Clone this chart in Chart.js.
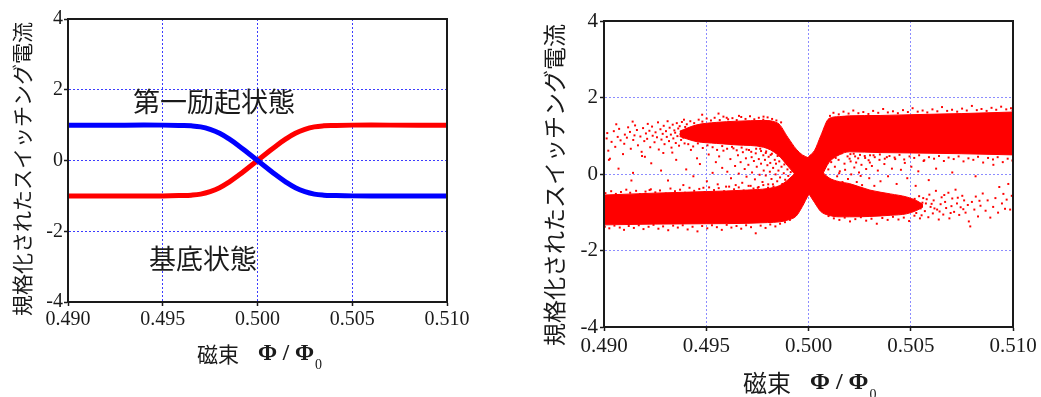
<!DOCTYPE html>
<html>
<head>
<meta charset="utf-8">
<script src="https://cdn.jsdelivr.net/npm/chart.js@4.4.0/dist/chart.umd.min.js"></script>
<style>
  html, body { margin: 0; padding: 0; background: #fff; }
  #wrap { position: relative; width: 1041px; height: 397px; overflow: hidden; }
  .box { position: absolute; top: 0; height: 397px; }
  #left { left: 0; width: 520px; }
  #right { left: 520px; width: 521px; }
</style>
</head>
<body>
<div id="wrap">
  <div class="box" id="left"><canvas id="c1" width="520" height="397"></canvas></div>
  <div class="box" id="right"><canvas id="c2" width="521" height="397"></canvas></div>
</div>
<script>
// 軸
const fluxTicks = [0.490, 0.495, 0.500, 0.505, 0.510];
const currentTicks = [-4, -2, 0, 2, 4];

// 左：計算結果
const fluxTheory    = [0.490, 0.493, 0.495, 0.496, 0.4965, 0.497, 0.4975, 0.498, 0.4985, 0.499, 0.4995, 0.500,
                       0.5005, 0.501, 0.5015, 0.502, 0.5025, 0.503, 0.5035, 0.504, 0.505, 0.507, 0.510];
const excitedTheory = [1, 1, 1, 0.99, 0.98, 0.95, 0.88, 0.77, 0.61, 0.42, 0.21, 0,
                       -0.21, -0.42, -0.61, -0.77, -0.88, -0.95, -0.98, -0.99, -1, -1, -1];
const groundTheory  = [-1, -1, -1, -0.99, -0.98, -0.95, -0.88, -0.77, -0.61, -0.42, -0.21, 0,
                       0.21, 0.42, 0.61, 0.77, 0.88, 0.95, 0.98, 0.99, 1, 1, 1];

// 右：測定の密な帯（上端と下端）
const bandGroundX   = [0.4900, 0.4925, 0.4950, 0.4970, 0.4980, 0.4986, 0.4990, 0.4994, 0.4997, 0.5000,
                       0.5003, 0.5006, 0.5010, 0.5015, 0.5020, 0.5035, 0.5050, 0.5075, 0.5100];
const bandGroundTop = [-0.55, -0.50, -0.46, -0.42, -0.38, -0.30, -0.15, 0.05, 0.25, 0.45,
                       0.62, 1.00, 1.45, 1.50, 1.52, 1.53, 1.55, 1.58, 1.62];
const bandGroundBot = [-1.33, -1.31, -1.30, -1.29, -1.27, -1.25, -1.20, -1.10, -0.85, -0.55,
                       -0.35, -0.10, 0.30, 0.50, 0.58, 0.56, 0.55, 0.53, 0.50];

const bandExcitedX   = [0.4937, 0.4945, 0.4955, 0.4965, 0.4978, 0.4985, 0.4990, 0.4994, 0.4997, 0.5000,
                        0.5003, 0.5006, 0.5010, 0.5015, 0.5020, 0.5030, 0.5040, 0.5048, 0.5053, 0.5056];
const bandExcitedTop = [1.12, 1.28, 1.35, 1.38, 1.40, 1.33, 0.95, 0.65, 0.50, 0.42,
                        0.30, 0.10, -0.10, -0.20, -0.25, -0.42, -0.52, -0.60, -0.70, -0.80];
const bandExcitedBot = [0.98, 0.85, 0.80, 0.76, 0.70, 0.50, 0.20, -0.05, -0.25, -0.50,
                        -0.75, -0.98, -1.08, -1.12, -1.12, -1.11, -1.08, -1.04, -0.95, -0.86];

// 右：散らばった点
const upperLeftDots = [
  [0.49013,0.93],[0.49021,0.61],[0.49016,1.07],[0.49037,0.84],[0.49029,0.40],[0.49048,1.12],[0.49055,0.71],
  [0.49067,0.97],[0.49074,1.18],[0.49081,0.88],[0.49093,0.52],[0.49102,1.03],[0.49099,0.79],[0.49118,1.22],
  [0.49112,0.95],[0.49131,0.66],[0.49127,1.10],[0.49143,0.89],[0.49152,1.27],[0.49149,1.01],[0.49166,0.75],
  [0.49161,1.15],[0.49178,0.98],[0.49184,0.58],[0.49191,1.20],[0.49197,0.86],[0.49205,1.06],[0.49214,1.31],
  [0.49211,0.92],[0.49226,0.70],[0.49222,1.13],[0.49238,1.00],[0.49235,1.24],[0.49247,0.83],[0.49252,1.09],
  [0.49259,0.96],[0.49264,1.35],[0.49268,0.64],[0.49276,1.17],[0.49281,0.90],[0.49287,1.05],[0.49292,1.26],
  [0.49296,0.78],[0.49303,1.12],[0.49307,0.97],[0.49311,1.38],[0.49318,0.86],[0.49321,1.21],[0.49327,1.03],
  [0.49330,0.69],[0.49336,1.29],[0.49339,0.93],[0.49344,1.14],[0.49348,1.08],[0.49351,0.81],[0.49356,1.33],
  [0.49359,0.99],[0.49363,1.19],[0.49367,0.74],[0.49370,1.25],[0.49374,1.04],[0.49377,0.89],[0.49381,1.36],
  [0.49384,1.12],[0.49388,0.95],[0.49391,1.42],[0.49394,0.80],[0.49397,1.23],[0.49399,1.07],
  [0.49060,1.30],[0.49140,1.37],[0.49200,0.45],[0.49290,0.55],[0.4948,1.55],[0.4966,1.52],[0.4978,1.50],
  [0.4960,1.47],[0.4956,1.58]
];
const middleLeftDots = [
  [0.49024,0.37],[0.49071,0.14],[0.49142,0.03],[0.49134,-0.17],[0.49186,0.47],[0.49231,0.28],[0.49223,-0.42],
  [0.49279,0.09],[0.49313,-0.17],[0.49334,0.56],[0.49353,0.37],[0.49388,-0.29],[0.49402,0.12],[0.49425,0.63],
  [0.49437,-0.06],[0.49455,0.41],[0.49469,0.26],[0.49486,-0.36],[0.49503,-0.19],[0.49512,0.51],[0.49531,0.03],
  [0.49547,0.31],[0.49556,-0.27],[0.49563,0.46],[0.49578,0.16],[0.49584,0.61],[0.49597,-0.33],[0.49603,0.06],
  [0.49618,0.39],[0.49621,-0.11],[0.49633,0.67],[0.49641,0.21],[0.49644,-0.29],[0.49655,0.49],[0.49659,0.01],
  [0.49668,0.31],[0.49676,-0.23],[0.49679,0.57],[0.49688,0.13],[0.49694,0.41],[0.49697,-0.07],[0.49706,0.24],
  [0.49709,0.63],[0.49717,-0.31],[0.49722,0.44],[0.49724,0.04],[0.49733,0.34],[0.49738,-0.14],[0.49742,0.54],
  [0.49747,0.19],[0.49752,-0.36],[0.49757,0.39],[0.49761,-0.02],[0.49764,0.66],[0.49768,0.27],[0.49775,-0.21],
  [0.49779,0.49],[0.49781,0.09],[0.49787,0.37],[0.49791,-0.04],[0.49793,0.59],[0.49799,0.23],[0.49803,-0.27],
  [0.49805,0.45],[0.49811,0.06],[0.49813,0.29],[0.49819,-0.13],[0.49821,0.53],[0.49827,0.16],[0.49829,-0.33],
  [0.49835,0.37],[0.49839,-0.01],[0.49841,0.27],[0.49847,-0.19],[0.49849,0.47],[0.49853,0.09],[0.49857,0.33],
  [0.49861,-0.09],[0.49864,0.58],[0.49868,0.19],[0.49872,-0.26],[0.49875,0.41],[0.49879,0.02],[0.49882,0.25],
  [0.49886,-0.15],[0.49889,0.35],[0.49893,-0.30],[0.49897,0.12],[0.49901,-0.05],[0.49905,0.22],[0.49909,-0.22],
  [0.49913,0.05]
];
const middleRightDots = [
  [0.50089,0.44],[0.50097,0.12],[0.50111,0.31],[0.50113,-0.16],[0.50126,0.51],[0.50129,0.19],[0.50140,-0.06],
  [0.50147,0.37],[0.50153,0.07],[0.50161,0.54],[0.50166,-0.21],[0.50176,0.27],[0.50179,0.11],[0.50191,0.46],
  [0.50193,-0.13],[0.50206,0.33],[0.50209,-0.01],[0.50221,0.53],[0.50224,0.17],[0.50236,-0.21],[0.50243,0.41],
  [0.50247,0.04],[0.50259,0.24],[0.50262,-0.29],[0.50275,0.47],[0.50282,0.13],[0.50294,0.36],[0.50297,-0.11],
  [0.50310,0.21],[0.50318,0.49],[0.50322,-0.31],[0.50339,0.09],[0.50347,0.37],[0.50352,-0.19],[0.50371,0.26],
  [0.50383,0.44],[0.50389,-0.06],[0.50408,0.14],[0.50424,0.39],[0.50431,-0.26],[0.50452,0.11],[0.50471,0.29],
  [0.50483,-0.11],[0.50503,0.19],[0.50524,-0.31],[0.50537,0.07],[0.50563,0.34],[0.50588,-0.16],[0.50624,0.14],
  [0.50703,0.04],[0.50817,-0.06],[0.50904,0.24],[0.50150,0.02],[0.50201,0.40],[0.50255,-0.05],[0.50300,0.30],
  [0.50180,-0.30],[0.50133,0.42],[0.50233,0.30]
];
const lowerRightDots = [
  [0.50561,-0.63],[0.50569,-0.97],[0.50574,-0.77],[0.50586,-1.13],[0.50591,-0.54],[0.50597,-0.86],[0.50608,-1.03],
  [0.50612,-0.69],[0.50623,-0.44],[0.50629,-0.93],[0.50637,-1.19],[0.50646,-0.79],[0.50651,-0.61],[0.50659,-1.06],
  [0.50668,-0.73],[0.50673,-0.89],[0.50684,-0.49],[0.50689,-1.16],[0.50699,-0.84],[0.50703,-0.64],[0.50712,-0.99],
  [0.50719,-0.41],[0.50726,-0.77],[0.50737,-1.07],[0.50744,-0.87],[0.50752,-0.57],[0.50761,-0.69],[0.50768,-1.01],
  [0.50779,-0.81],[0.50784,-1.24],[0.50791,-1.37],[0.50799,-0.73],[0.50811,-0.93],[0.50818,-0.59],[0.50829,-1.11],
  [0.50841,-0.83],[0.50852,-0.51],[0.50866,-0.96],[0.50876,-0.69],[0.50889,-1.14],[0.50903,-0.86],[0.50914,-0.63],
  [0.50927,-1.01],[0.50933,-0.34],[0.50946,-0.77],[0.50953,-0.52],[0.50961,-0.91],[0.50969,-0.67],[0.50977,-0.26],
  [0.50986,-0.93],[0.50994,-0.57],
  [0.50505,-0.72],[0.50512,-0.95],[0.50519,-0.65],[0.50527,-1.02],[0.50533,-0.80],[0.50541,-0.58],[0.50548,-0.90],
  [0.50553,-1.08],[0.50557,-0.75],[0.50578,-0.66],[0.50602,-0.78],[0.50616,-0.90],[0.50641,-0.98],[0.50664,-0.55],
  [0.50695,-1.02],[0.50730,-0.62],[0.50757,-0.92],[0.50836,-0.70]
];
const edgeDots = [
  // 左下の帯の上端
  [0.49007,-0.50],[0.49035,-0.45],[0.49058,-0.52],[0.49083,-0.47],[0.49109,-0.41],[0.49128,-0.49],[0.49157,-0.44],
  [0.49176,-0.53],[0.49203,-0.46],[0.49229,-0.40],[0.49251,-0.48],[0.49274,-0.43],[0.49302,-0.51],[0.49325,-0.38],
  [0.49347,-0.45],[0.49372,-0.41],[0.49396,-0.49],[0.49418,-0.36],[0.49441,-0.44],[0.49466,-0.39],[0.49492,-0.47],
  [0.49514,-0.35],[0.49538,-0.42],[0.49561,-0.37],[0.49587,-0.45],[0.49612,-0.33],[0.49636,-0.40],[0.49659,-0.35],
  [0.49683,-0.43],[0.49707,-0.31],[0.49731,-0.38],[0.49756,-0.34],[0.49779,-0.29],[0.49802,-0.36],[0.49826,-0.27],
  // 左下の帯の下端
  [0.49004,-1.38],[0.49026,-1.42],[0.49051,-1.35],[0.49077,-1.40],[0.49098,-1.46],[0.49121,-1.36],[0.49146,-1.41],
  [0.49170,-1.34],[0.49193,-1.44],[0.49218,-1.38],[0.49242,-1.33],[0.49266,-1.43],[0.49289,-1.37],[0.49314,-1.47],
  [0.49338,-1.35],[0.49361,-1.40],[0.49385,-1.34],[0.49409,-1.45],[0.49433,-1.38],[0.49457,-1.50],[0.49480,-1.36],
  [0.49505,-1.42],[0.49528,-1.34],[0.49552,-1.39],[0.49576,-1.46],[0.49600,-1.33],[0.49623,-1.40],[0.49648,-1.36],
  [0.49671,-1.43],[0.49695,-1.34],[0.49719,-1.39],[0.49742,-1.55],[0.49766,-1.35],[0.49790,-1.41],[0.49813,-1.32],
  [0.49838,-1.37],[0.49861,-1.30],[0.49885,-1.26],[0.49909,-1.20],
  // 左上の帯の上端・下端
  [0.49405,1.30],[0.49422,1.38],[0.49441,1.33],[0.49463,1.42],[0.49481,1.37],[0.49502,1.45],[0.49523,1.40],
  [0.49541,1.47],[0.49566,1.41],[0.49584,1.50],[0.49607,1.43],[0.49628,1.46],[0.49649,1.41],[0.49671,1.49],
  [0.49692,1.44],[0.49714,1.51],[0.49735,1.43],[0.49757,1.47],[0.49779,1.42],[0.49800,1.48],[0.49822,1.44],
  [0.49843,1.40],[0.49866,1.35],
  [0.49412,0.78],[0.49436,0.72],[0.49459,0.80],[0.49483,0.68],[0.49506,0.75],[0.49531,0.70],[0.49553,0.63],
  [0.49578,0.73],[0.49602,0.66],[0.49626,0.71],[0.49649,0.62],[0.49673,0.69],[0.49697,0.64],[0.49720,0.58],
  [0.49744,0.66],[0.49768,0.60],[0.49791,0.55],[0.49815,0.50],
  // 右上の帯の上端
  [0.50105,1.52],[0.50122,1.60],[0.50148,1.56],[0.50171,1.63],[0.50196,1.58],[0.50219,1.66],[0.50244,1.59],
  [0.50268,1.62],[0.50293,1.57],[0.50316,1.65],[0.50341,1.60],[0.50365,1.70],[0.50388,1.61],[0.50413,1.64],
  [0.50437,1.59],[0.50462,1.67],[0.50486,1.62],[0.50509,1.72],[0.50534,1.63],[0.50558,1.66],[0.50581,1.61],
  [0.50606,1.69],[0.50630,1.64],[0.50653,1.75],[0.50678,1.65],[0.50702,1.68],[0.50727,1.63],[0.50751,1.71],
  [0.50774,1.66],[0.50799,1.78],[0.50823,1.67],[0.50846,1.70],[0.50871,1.65],[0.50895,1.73],[0.50918,1.68],
  [0.50942,1.76],[0.50967,1.69],[0.50990,1.72],[0.50998,1.66],
  // 右上の帯の下端
  [0.50205,0.52],[0.50228,0.46],[0.50252,0.50],[0.50277,0.42],[0.50301,0.49],[0.50324,0.44],[0.50349,0.51],
  [0.50373,0.40],[0.50396,0.47],[0.50421,0.43],[0.50445,0.50],[0.50468,0.38],[0.50494,0.46],[0.50517,0.42],
  [0.50541,0.49],[0.50566,0.36],[0.50589,0.44],[0.50614,0.40],[0.50638,0.47],[0.50662,0.34],[0.50685,0.43],
  [0.50710,0.39],[0.50734,0.46],[0.50758,0.33],[0.50782,0.41],[0.50806,0.37],[0.50829,0.45],[0.50854,0.30],
  [0.50878,0.42],[0.50902,0.38],[0.50925,0.44],[0.50950,0.31],[0.50974,0.40],[0.50997,0.35],
  // 右下の帯の下端
  [0.50098,-1.10],[0.50124,-1.16],[0.50151,-1.20],[0.50177,-1.14],[0.50203,-1.24],[0.50229,-1.18],[0.50256,-1.13],
  [0.50282,-1.22],[0.50308,-1.17],[0.50334,-1.30],[0.50361,-1.15],[0.50387,-1.20],[0.50413,-1.12],[0.50440,-1.19],
  [0.50466,-1.14],[0.50492,-1.23],[0.50518,-1.09],[0.50545,-1.16]
];

const Y_TITLE = '規格化されたスイッチング電流';
const SERIF = '"Liberation Serif", "Times New Roman", serif';
const CJK = '"Noto Sans CJK JP", "Noto Sans CJK SC", sans-serif';
const INK = '#1a1a1a';
const RED = '#ff0000';
const BLUE = '#0000ff';

const toPts = (xs, ys) => xs.map((x, i) => ({ x: x, y: ys[i] }));
const pairPts = arr => arr.map(p => ({ x: p[0], y: p[1] }));

// 枠・軸タイトル・注記
const frameText = {
  id: 'frameText',
  afterDraw(chart, args, o) {
    const { ctx, chartArea: a, scales } = chart;
    ctx.save();
    ctx.strokeStyle = INK;
    ctx.lineWidth = 2;
    ctx.strokeRect(a.left, a.top, a.right - a.left, a.bottom - a.top);

    ctx.fillStyle = INK;
    ctx.textBaseline = 'middle';
    (o.notes || []).forEach(n => {
      ctx.font = n.size + 'px ' + CJK;
      ctx.textAlign = 'center';
      ctx.fillText(n.text, scales.x.getPixelForValue(n.x), scales.y.getPixelForValue(n.y));
    });

    const t = o.xTitle;
    ctx.textAlign = 'left';
    ctx.font = t.size + 'px ' + CJK;
    ctx.fillText('磁束', t.x, t.y);
    ctx.font = 'bold ' + t.phiSize + 'px ' + SERIF;
    ctx.fillText('Φ / Φ', t.phiX, t.y);
    const w = ctx.measureText('Φ / Φ').width;
    ctx.font = Math.round(t.phiSize * 0.6) + 'px ' + SERIF;
    ctx.fillText('0', t.phiX + w + 1, t.y + t.phiSize * 0.5);

    const yt = o.yTitle;
    ctx.translate(yt.x, yt.y);
    ctx.rotate(-Math.PI / 2);
    ctx.textAlign = 'center';
    ctx.font = yt.size + 'px ' + CJK;
    ctx.fillText(Y_TITLE, 0, 0);
    ctx.restore();
  }
};

function makeScales(fontSize, gridColor, xHeight, yWidth, xPad, yPad) {
  const common = {
    type: 'linear',
    grid: { color: gridColor, lineWidth: 1, tickLength: 4, tickColor: INK, tickWidth: 1.5 },
    border: { display: true, color: INK, width: 2, dash: [2, 2] },
    ticks: { font: { family: SERIF, size: fontSize }, color: INK, autoSkip: false, maxRotation: 0 }
  };
  return {
    x: {
      ...common,
      min: 0.49, max: 0.51,
      afterBuildTicks: s => { s.ticks = fluxTicks.map(v => ({ value: v })); },
      afterFit: s => { s.height = xHeight; },
      ticks: { ...common.ticks, padding: xPad, callback: v => Number(v).toFixed(3) }
    },
    y: {
      ...common,
      min: -4, max: 4,
      afterBuildTicks: s => { s.ticks = currentTicks.map(v => ({ value: v })); },
      afterFit: s => { s.width = yWidth; },
      ticks: { ...common.ticks, padding: yPad, callback: v => String(v) }
    }
  };
}

// 左のグラフ
new Chart(document.getElementById('c1'), {
  type: 'line',
  data: {
    datasets: [
      { data: toPts(fluxTheory, excitedTheory), borderColor: BLUE, borderWidth: 5,
        pointRadius: 0, tension: 0.4, fill: false },
      { data: toPts(fluxTheory, groundTheory), borderColor: RED, borderWidth: 5,
        pointRadius: 0, tension: 0.4, fill: false }
    ]
  },
  options: {
    responsive: false,
    animation: false,
    layout: { padding: { left: 0, top: 19, right: 73, bottom: 0 } },
    plugins: {
      legend: { display: false },
      tooltip: { enabled: false },
      frameText: {
        yTitle: { x: 22, y: 169, size: 21 },
        xTitle: { x: 197, y: 354, size: 21, phiX: 258, phiSize: 23 },
        notes: [
          { text: '第一励起状態', x: 0.4977, y: 1.67, size: 27 },
          { text: '基底状態', x: 0.49712, y: -2.78, size: 27 }
        ]
      }
    },
    scales: makeScales(20, '#3b3bff', 95, 68, 2, 1)
  },
  plugins: [frameText]
});

// 右のグラフ
const band = (xs, ys, fill) => ({
  data: toPts(xs, ys), borderColor: RED, borderWidth: 1, backgroundColor: RED,
  pointRadius: 0, cubicInterpolationMode: 'monotone', fill: fill
});
const dots = arr => ({
  data: pairPts(arr), showLine: false, pointStyle: 'rect', pointRadius: 1.4,
  pointBackgroundColor: RED, pointBorderWidth: 0, fill: false
});

new Chart(document.getElementById('c2'), {
  type: 'line',
  data: {
    datasets: [
      band(bandGroundX, bandGroundTop, '+1'),
      band(bandGroundX, bandGroundBot, false),
      band(bandExcitedX, bandExcitedTop, '+1'),
      band(bandExcitedX, bandExcitedBot, false),
      dots(upperLeftDots),
      dots(middleLeftDots),
      dots(middleRightDots),
      dots(lowerRightDots),
      dots(edgeDots)
    ]
  },
  options: {
    responsive: false,
    animation: false,
    layout: { padding: { left: 0, top: 21, right: 28, bottom: 0 } },
    plugins: {
      legend: { display: false },
      tooltip: { enabled: false },
      frameText: {
        yTitle: { x: 34, y: 185, size: 23 },
        xTitle: { x: 223, y: 383, size: 24, phiX: 290, phiSize: 24 }
      }
    },
    scales: makeScales(21, '#8c8cff', 70, 84, 3, 2)
  },
  plugins: [frameText]
});
</script>
</body>
</html>
